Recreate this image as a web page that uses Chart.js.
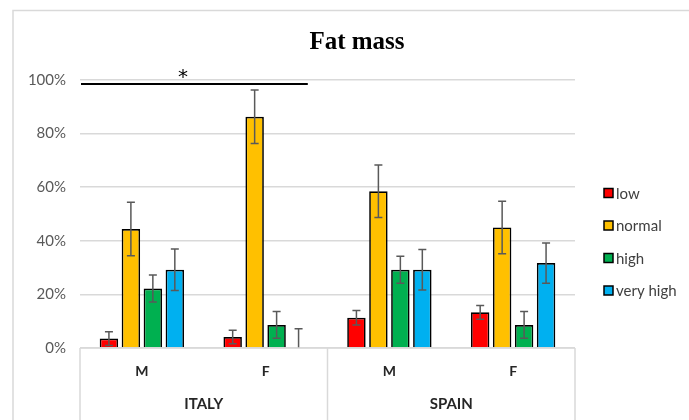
<!DOCTYPE html>
<html>
<head>
<meta charset="utf-8">
<script src="https://cdn.jsdelivr.net/npm/chart.js@4.4.1/dist/chart.umd.min.js"></script>
<style>
  html, body { margin: 0; padding: 0; background: #ffffff; }
  #wrap { position: relative; width: 689px; height: 420px; }
</style>
</head>
<body>
<div id="wrap"><canvas id="chart" width="689" height="420"></canvas></div>
<script>
// Fat mass category distribution (%) by country and sex, with error margins
const countries = ['ITALY', 'SPAIN'];
const sexLabels = ['M', 'F', 'M', 'F'];
const yTickValues = [0, 20, 40, 60, 80, 100];

const lowValues      = [3.5, 4.1, 11.3, 13.3];
const lowErrors      = [2.6, 2.5, 2.7, 2.6];
const normalValues   = [44.4, 86.3, 58.5, 45.0];
const normalErrors   = [10.0, 10.0, 9.8, 9.8];
const highValues     = [22.2, 8.6, 29.2, 8.6];
const highErrors     = [5.0, 5.0, 5.0, 5.0];
const veryHighValues = [29.2, 0, 29.2, 31.7];
const veryHighErrors = [7.7, 7.2, 7.6, 7.5];

// Significance bracket over the ITALY group
const sigMark = '*';
const sigLevel = 98.5;

const seriesNames = ['low', 'normal', 'high', 'very high'];
const seriesColors = ['#FF0000', '#FFC000', '#00B050', '#00B0F0'];
const seriesValues = [lowValues, normalValues, highValues, veryHighValues];
const seriesErrors = [lowErrors, normalErrors, highErrors, veryHighErrors];

const FONT = 'Lato, "Open Sans", sans-serif';

const datasets = seriesNames.map((name, i) => ({
  label: name,
  data: seriesValues[i],
  errors: seriesErrors[i],
  backgroundColor: seriesColors[i],
  borderColor: '#000000',
  borderWidth: 1.7,
  categoryPercentage: 0.71,
  barPercentage: 0.84
}));

const decorations = {
  id: 'decorations',
  beforeDraw(chart) {
    const { ctx } = chart;
    ctx.save();
    ctx.fillStyle = '#ffffff';
    ctx.fillRect(0, 0, chart.width, chart.height);
    // outer frame
    ctx.strokeStyle = '#d9d9d9';
    ctx.lineWidth = 1.5;
    ctx.beginPath();
    ctx.moveTo(13, chart.height);
    ctx.lineTo(13, 10.5);
    ctx.lineTo(chart.width, 10.5);
    ctx.stroke();
    ctx.restore();
  },
  afterDatasetsDraw(chart) {
    const { ctx, chartArea, scales } = chart;
    const x = scales.x, y = scales.y;
    ctx.save();

    // error bars
    ctx.strokeStyle = '#595959';
    ctx.lineWidth = 1.5;
    chart.data.datasets.forEach((ds, di) => {
      const meta = chart.getDatasetMeta(di);
      meta.data.forEach((bar, i) => {
        const v = ds.data[i], e = ds.errors[i];
        const top = y.getPixelForValue(v + e);
        const lowRaw = v - e;
        const bot = y.getPixelForValue(Math.max(0, lowRaw));
        const cx = bar.x, half = 4;
        ctx.beginPath();
        ctx.moveTo(cx, top); ctx.lineTo(cx, bot);
        ctx.moveTo(cx - half, top); ctx.lineTo(cx + half, top);
        if (lowRaw > 0) { ctx.moveTo(cx - half, bot); ctx.lineTo(cx + half, bot); }
        ctx.stroke();
      });
    });

    // significance bracket from the plot edge to the end of the ITALY group
    const lastMeta = chart.getDatasetMeta(chart.data.datasets.length - 1);
    const endBar = lastMeta.data[1];
    const sy = y.getPixelForValue(sigLevel);
    const sx0 = chartArea.left + 1;
    const sx1 = endBar.x + endBar.width / 2;
    ctx.strokeStyle = '#000000';
    ctx.lineWidth = 2;
    ctx.beginPath();
    ctx.moveTo(sx0, sy); ctx.lineTo(sx1, sy);
    ctx.stroke();
    ctx.fillStyle = '#000000';
    ctx.font = '20px "DejaVu Sans", sans-serif';
    ctx.textAlign = 'center';
    ctx.textBaseline = 'middle';
    ctx.fillText(sigMark, sx0 + (sx1 - sx0) * 0.45, sy - 6);

    // category box beneath the plot
    const boxBottom = chart.height;
    const b0 = chartArea.left;
    const b1 = (x.getPixelForValue(1) + x.getPixelForValue(2)) / 2;
    const b2 = chartArea.right;
    ctx.strokeStyle = '#d9d9d9';
    ctx.lineWidth = 1.5;
    ctx.beginPath();
    ctx.moveTo(b0, chartArea.bottom); ctx.lineTo(b2, chartArea.bottom);
    [b0, b1, b2].forEach(bx => { ctx.moveTo(bx, chartArea.bottom); ctx.lineTo(bx, boxBottom); });
    ctx.stroke();

    // country labels
    ctx.fillStyle = '#262626';
    ctx.font = 'bold 15px ' + FONT;
    countries.forEach((c, k) => {
      const cx = (x.getPixelForValue(2 * k) + x.getPixelForValue(2 * k + 1)) / 2;
      ctx.fillText(c, cx, 404);
    });

    // legend
    ctx.font = '15px ' + FONT;
    ctx.textAlign = 'left';
    const legendY = [193, 225.5, 258, 290.5];
    seriesNames.forEach((name, i) => {
      const ly = legendY[i];
      ctx.fillStyle = seriesColors[i];
      ctx.fillRect(604, ly - 4.5, 9, 9);
      ctx.strokeStyle = '#000000';
      ctx.lineWidth = 1.5;
      ctx.strokeRect(604, ly - 4.5, 9, 9);
      ctx.fillStyle = '#404040';
      ctx.fillText(name, 616, ly + 1);
    });

    // title
    ctx.fillStyle = '#000000';
    ctx.font = 'bold 25px "Liberation Serif", "Times New Roman", serif';
    ctx.textAlign = 'center';
    ctx.fillText('Fat mass', 357, 43);
    ctx.restore();
  }
};

new Chart(document.getElementById('chart'), {
  type: 'bar',
  data: { labels: sexLabels, datasets },
  options: {
    responsive: false,
    animation: false,
    devicePixelRatio: 1,
    layout: { padding: { left: 0, right: 114, top: 80, bottom: 0 } },
    plugins: { legend: { display: false }, tooltip: { enabled: false } },
    scales: {
      y: {
        min: 0, max: 100,
        afterBuildTicks: s => { s.ticks = yTickValues.map(v => ({ value: v })); },
        afterFit: s => { s.width = 80; },
        ticks: {
          callback: v => v + '%',
          font: { family: FONT, size: 15 },
          color: '#595959',
          padding: 14
        },
        grid: { color: '#d9d9d9', lineWidth: 1.5, drawTicks: false },
        border: { display: false }
      },
      x: {
        afterFit: s => { s.height = 72; },
        grid: { display: false, drawTicks: false },
        border: { display: false },
        ticks: {
          font: { family: FONT, size: 14, weight: 'bold' },
          color: '#262626',
          padding: 15
        }
      }
    }
  },
  plugins: [decorations]
});
</script>
</body>
</html>
